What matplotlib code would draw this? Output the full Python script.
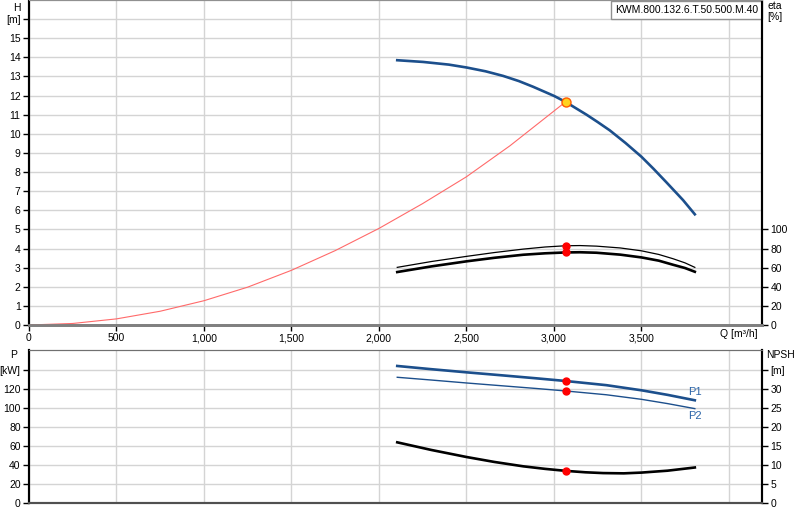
import numpy as np
import matplotlib
matplotlib.use('Agg')
import matplotlib.pyplot as plt
from matplotlib.ticker import FuncFormatter

plt.rcParams['font.family'] = ['Liberation Sans', 'DejaVu Sans']
plt.rcParams['font.size'] = 7.5

# --- data ---
q_pump = [2105, 2253, 2400, 2501, 2610, 2710, 2800, 2882, 3002, 3067,
          3187, 3250, 3320, 3410, 3501, 3570, 3644, 3739, 3806]
h_pump = [13.85, 13.76, 13.62, 13.47, 13.27, 13.03, 12.76, 12.46, 11.98, 11.67,
          11.00, 10.62, 10.18, 9.52, 8.80, 8.17, 7.46, 6.53, 5.79]

q_sys = [0, 250, 500, 750, 1000, 1250, 1500, 1750, 2000, 2250, 2500, 2750, 3067]
h_sys = [0, 0.08, 0.32, 0.72, 1.27, 1.98, 2.86, 3.89, 5.05, 6.35, 7.75, 9.38, 11.67]

q_eta = [2105, 2300, 2501, 2660, 2825, 2950, 3067, 3150, 3244, 3380,
         3501, 3600, 3682, 3750, 3806]
eta_upper = [60.3, 66.4, 71.8, 75.8, 79.4, 81.6, 82.9, 83.1, 82.5, 80.6,
             77.6, 73.8, 69.3, 65.0, 60.3]
eta_lower = [55.4, 61.3, 66.6, 70.3, 73.5, 75.0, 75.9, 76.1, 75.6, 73.6,
             70.7, 67.3, 63.0, 59.6, 55.7]

q_pow = [2105, 2300, 2501, 2700, 2900, 3067, 3300, 3501, 3650, 3806]
p1 = [144.2, 140.8, 137.5, 134.4, 131.2, 128.4, 124.0, 118.6, 113.8, 108.1]
p2 = [132.3, 129.4, 126.3, 123.4, 120.5, 117.9, 113.9, 109.1, 104.6, 99.3]

q_npsh = [2105, 2300, 2501, 2660, 2825, 2950, 3067, 3180, 3282, 3400, 3501, 3650, 3806]
npsh = [15.96, 13.95, 12.1, 10.8, 9.65, 8.98, 8.46, 8.08, 7.87, 7.8, 8.0, 8.5, 9.34]

q_op = 3067
h_op = 11.67
eta_op = [82.9, 75.9]
p_op = [128.4, 117.9]
npsh_op = 8.46

pump_name = 'KWM.800.132.6.T.50.500.M.40'

blue = '#1c4f8c'
grid_c = '#d4d4d4'

fig = plt.figure(figsize=(8, 5.2), dpi=100)
ax = fig.add_axes([29 / 800, 1 - 325 / 520, 733 / 800, 325 / 520])
axb = fig.add_axes([29 / 800, 1 - 503 / 520, 733 / 800, 153 / 520])

qmax = 4190

# ===================== top panel: H / eta =====================
ax.set_xlim(0, qmax)
ax.set_ylim(0, 17)
ax.set_xticks(np.arange(0, 3501, 500))
ax.axvline(4000, color=grid_c, lw=1, zorder=0)
ax.xaxis.set_major_formatter(FuncFormatter(lambda v, p: f'{int(v):,}'))
ax.set_yticks(np.arange(0, 17, 1))
ax.set_yticklabels([str(i) for i in range(16)] + ['[m]'])
ax.grid(True, color=grid_c, lw=1)
ax.set_axisbelow(True)
ax.tick_params(length=4, width=1, pad=2, labelsize=7.5)

ax.plot(q_sys, h_sys, color='#ff6a6a', lw=0.8, zorder=3)
ax.plot(q_pump, h_pump, color=blue, lw=1.9, zorder=4)
ax.plot([q_op], [h_op], 'o', ms=6.5, mfc='#ffd21f', mec='#ff5a00', mew=1, zorder=6)

ax2 = ax.twinx()
ax2.set_ylim(0, 17 * 20)
ax2.set_yticks(np.arange(0, 101, 20))
ax2.tick_params(length=4, width=1, pad=2, labelsize=7.5)
ax2.plot(q_eta, eta_upper, color='black', lw=0.9, zorder=4)
ax2.plot(q_eta, eta_lower, color='black', lw=1.9, zorder=4)
ax2.plot([q_op, q_op], eta_op, 'o', color='red', ms=5, zorder=6)

for a in (ax, ax2):
    a.spines['top'].set_color('#909090')
    a.spines['left'].set_color('black')
    a.spines['left'].set_linewidth(1.5)
    a.spines['right'].set_color('black')
    a.spines['right'].set_linewidth(1.5)
    a.spines['bottom'].set_color('#808080')
    a.spines['bottom'].set_linewidth(2)

ax.text(1 - 4 / 733, 1 - 10 / 325, pump_name, transform=ax.transAxes,
        ha='right', va='center', fontsize=7.5, zorder=10,
        bbox=dict(boxstyle='square,pad=0.4', fc='white', ec='#909090', lw=1))

fig.text(17 / 800, 1 - 8 / 520, 'H', ha='center', va='center', fontsize=7.5)
fig.text(767 / 800, 1 - 6 / 520, 'eta', ha='left', va='center', fontsize=7.5)
fig.text(767 / 800, 1 - 17 / 520, '[%]', ha='left', va='center', fontsize=7.5)
fig.text(758 / 800, 1 - 334 / 520, 'Q [m\u00b3/h]', ha='right', va='center', fontsize=7.5)

# ===================== bottom panel: P / NPSH =====================
axb.set_xlim(0, qmax)
axb.set_ylim(0, 161)
axb.set_xticks(np.arange(0, 4001, 500))
axb.set_yticks(np.arange(0, 141, 20))
axb.set_yticklabels([str(v) for v in range(0, 121, 20)] + ['[kW]'])
axb.tick_params(axis='x', length=0, labelbottom=False)
axb.tick_params(axis='y', length=4, width=1, pad=2, labelsize=7.5)
axb.grid(True, color=grid_c, lw=1)
axb.set_axisbelow(True)

axb.plot(q_pow, p1, color=blue, lw=1.9, zorder=4)
axb.plot(q_pow, p2, color=blue, lw=1.0, zorder=4)
axb.plot([q_op, q_op], p_op, 'o', color='red', ms=5, zorder=6)
axb.text(3806, 117, 'P1', color='#2a64a8', fontsize=8, ha='center', va='center')
axb.text(3806, 92, 'P2', color='#2a64a8', fontsize=8, ha='center', va='center')

axb2 = axb.twinx()
axb2.set_ylim(0, 161 / 4)
axb2.set_yticks(np.arange(0, 36, 5))
axb2.set_yticklabels([str(v) for v in range(0, 31, 5)] + ['[m]'])
axb2.tick_params(length=4, width=1, pad=2, labelsize=7.5)
axb2.plot(q_npsh, npsh, color='black', lw=1.9, zorder=4)
axb2.plot([q_op], [npsh_op], 'o', color='red', ms=5, zorder=6)

for a in (axb, axb2):
    a.spines['top'].set_color('#707070')
    a.spines['left'].set_color('black')
    a.spines['left'].set_linewidth(1.5)
    a.spines['right'].set_color('black')
    a.spines['right'].set_linewidth(1.5)
    a.spines['bottom'].set_color('#505050')
    a.spines['bottom'].set_linewidth(1.5)

fig.text(14 / 800, 1 - 355 / 520, 'P', ha='center', va='center', fontsize=7.5)
fig.text(766 / 800, 1 - 355 / 520, 'NPSH', ha='left', va='center', fontsize=7.5)

fig.savefig('out.png', dpi=100)
